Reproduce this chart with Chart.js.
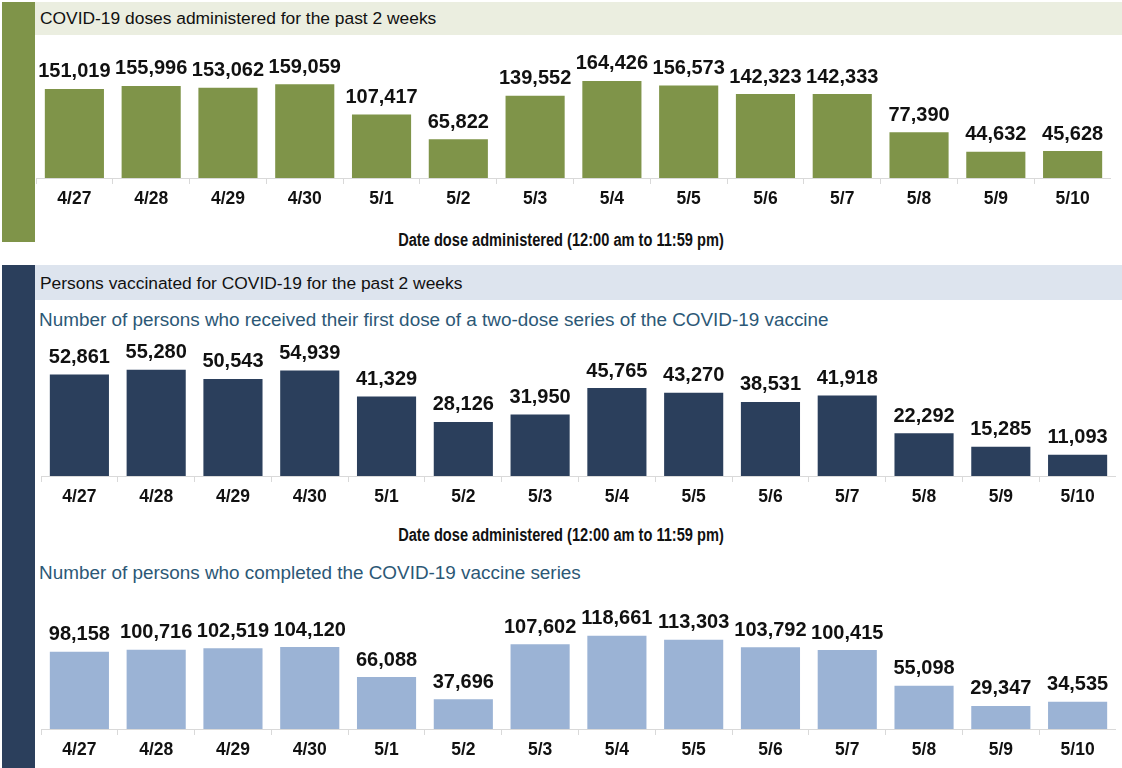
<!DOCTYPE html>
<html>
<head>
<meta charset="utf-8">
<script src="https://cdn.jsdelivr.net/npm/chart.js@4"></script>
<style>
  html, body { margin:0; padding:0; background:#fff; width:1122px; height:768px; overflow:hidden; font-family:"Liberation Sans", Arial, sans-serif; }
  .abs { position:absolute; }
  .hdr { font-size:17.4px; color:#111; line-height:1; white-space:nowrap; }
  .sub { font-size:18.9px; color:#2c5876; line-height:1; white-space:nowrap; }
  .axt { font-family:"Liberation Sans", Arial, sans-serif; font-weight:bold; font-size:17.5px; color:#111; line-height:1; white-space:nowrap; transform:translateX(-50%) scaleX(0.835); transform-origin:50% 0; }
  canvas { position:absolute; }
</style>
</head>
<body>
<div class="abs" style="left:2px;top:2px;width:33px;height:240px;background:#7f9449;"></div>
<div class="abs" style="left:35px;top:2px;width:1087px;height:33px;background:#ebeee0;"></div>
<div class="abs hdr" style="left:40px;top:10px;">COVID-19 doses administered for the past 2 weeks</div>
<div style="position:absolute;left:36px;top:40px;width:1075px;height:175px;"><canvas id="c1"></canvas></div>
<div class="abs axt" style="left:561px;top:232px;">Date dose administered (12:00 am to 11:59 pm)</div>

<div class="abs" style="left:2px;top:265px;width:33px;height:503px;background:#2b3f5c;"></div>
<div class="abs" style="left:35px;top:265px;width:1087px;height:35px;background:#dde4ee;"></div>
<div class="abs hdr" style="left:40px;top:275px;">Persons vaccinated for COVID-19 for the past 2 weeks</div>
<div class="abs sub" style="left:39px;top:311px;">Number of persons who received their first dose of a two-dose series of the COVID-19 vaccine</div>
<div style="position:absolute;left:41px;top:325px;width:1075px;height:188px;"><canvas id="c2"></canvas></div>
<div class="abs axt" style="left:561px;top:527px;">Date dose administered (12:00 am to 11:59 pm)</div>
<div class="abs sub" style="left:39px;top:564px;">Number of persons who completed the COVID-19 vaccine series</div>
<div style="position:absolute;left:41px;top:595px;width:1075px;height:171px;"><canvas id="c3"></canvas></div>

<script>
const dates = ["4/27","4/28","4/29","4/30","5/1","5/2","5/3","5/4","5/5","5/6","5/7","5/8","5/9","5/10"];
const dosesAdministered = [151019,155996,153062,159059,107417,65822,139552,164426,156573,142323,142333,77390,44632,45628];
const firstDose = [52861,55280,50543,54939,41329,28126,31950,45765,43270,38531,41918,22292,15285,11093];
const completedSeries = [98158,100716,102519,104120,66088,37696,107602,118661,113303,103792,100415,55098,29347,34535];

const valueLabels = {
  id: 'valueLabels',
  afterDatasetsDraw(chart) {
    const ctx = chart.ctx;
    ctx.save();
    ctx.font = 'bold 20px "Liberation Sans", Arial, sans-serif';
    ctx.fillStyle = '#111';
    ctx.textAlign = 'center';
    ctx.textBaseline = 'alphabetic';
    chart.data.datasets.forEach((ds, di) => {
      chart.getDatasetMeta(di).data.forEach((bar, i) => {
        ctx.fillText(ds.data[i].toLocaleString('en-US'), bar.x, bar.y - 11.5);
      });
    });
    ctx.restore();
  }
};

function makeChart(id, values, color, ymax, padTop) {
  new Chart(document.getElementById(id), {
    type: 'bar',
    data: { labels: dates, datasets: [{ data: values, backgroundColor: color, borderWidth: 0, barPercentage: 0.77, categoryPercentage: 1.0 }] },
    options: {
      responsive: true, maintainAspectRatio: false, animation: false,
      layout: { padding: { top: padTop, left: 0, right: 0, bottom: 0 } },
      plugins: { legend: { display: false }, tooltip: { enabled: false } },
      scales: {
        x: {
          grid: { display: true, drawOnChartArea: false, drawTicks: true, tickLength: 6, color: '#d9d9d9', offset: true },
          border: { display: true, color: '#d9d9d9', width: 1 },
          ticks: { color: '#111', padding: 5, font: { family: '"Liberation Sans", Arial, sans-serif', weight: 'bold', size: 17.5 } }
        },
        y: { display: false, min: 0, max: ymax }
      }
    },
    plugins: [valueLabels]
  });
}
makeChart('c1', dosesAdministered, '#7f9449', 200000, 20);
makeChart('c2', firstDose, '#2b3f5c', 70000, 16.5);
makeChart('c3', completedSeries, '#9bb3d5', 150000, 16);
</script>
</body>
</html>
